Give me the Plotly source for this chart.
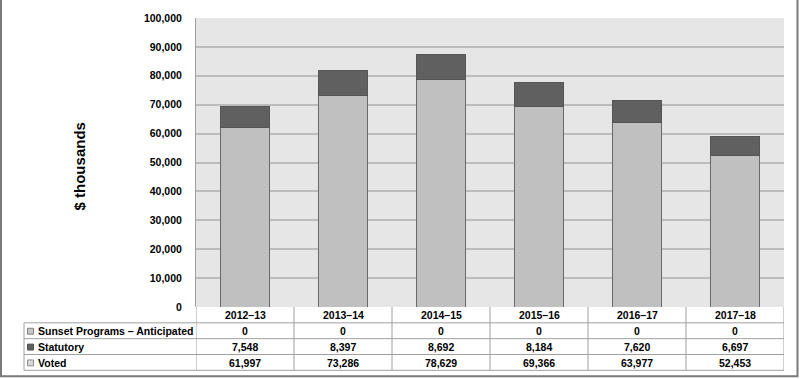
import plotly.graph_objects as go

years = ["2012–13", "2013–14", "2014–15", "2015–16", "2016–17", "2017–18"]
sunset = [0, 0, 0, 0, 0, 0]
statutory = [7548, 8397, 8692, 8184, 7620, 6697]
voted = [61997, 73286, 78629, 69366, 63977, 52453]
y_ticks = [0, 10000, 20000, 30000, 40000, 50000, 60000, 70000, 80000, 90000, 100000]

W, H = 800, 379
L, R, T, B = 196, 784, 15, 307
pw, ph = R - L, B - T

def px_x(x):
    return (x - L) / pw

def px_y(y):
    return (B - y) / ph

FONT = "Liberation Sans, Arial, sans-serif"
C_VOTED = "#c0c0c0"
C_STAT = "#606060"
C_SUNSET = "#c8c8c8"

fig = go.Figure()
fig.add_bar(x=years, y=voted, name="Voted", marker=dict(color=C_VOTED, line=dict(color="#6a6a6a", width=1)), width=0.51)
fig.add_bar(x=years, y=statutory, name="Statutory", marker=dict(color=C_STAT, line=dict(color="#555555", width=1)), width=0.51)
fig.add_bar(x=years, y=sunset, name="Sunset Programs – Anticipated", marker=dict(color=C_SUNSET, line=dict(width=0)), width=0.51)

shapes = []
annotations = []
line_c = "#a0a0a0"
row_h = 16
rows = [("Sunset Programs – Anticipated", sunset, C_SUNSET, "#808080"),
        ("Statutory", statutory, C_STAT, "#505050"),
        ("Voted", voted, "#d8d8d8", "#909090")]

tfont = dict(family=FONT, size=10.5, color="black")
# header row values (years)
for i, yr in enumerate(years):
    annotations.append(dict(x=i, y=px_y(B + row_h / 2 + 0.5), xref="x", yref="paper", text=f"<b>{yr}</b>", showarrow=False,
                            font=tfont, xanchor="center", yanchor="middle"))
# table rows
for r, (label, vals, col, edge) in enumerate(rows):
    top = B + row_h * (r + 1)
    mid = top + row_h / 2 + 0.5
    annotations.append(dict(x=px_x(36), y=px_y(mid), xref="paper", yref="paper", text=f"<b>{label}</b>", showarrow=False,
                            font=tfont, xanchor="left", yanchor="middle"))
    shapes.append(dict(type="rect", xref="paper", yref="paper", x0=px_x(27.5), x1=px_x(33.5),
                       y0=px_y(mid - 3), y1=px_y(mid + 3), fillcolor=col, line=dict(color=edge, width=1)))
    for i, v in enumerate(vals):
        annotations.append(dict(x=i, y=px_y(mid), xref="x", yref="paper", text=f"<b>{v:,}</b>", showarrow=False,
                                font=tfont, xanchor="center", yanchor="middle"))

# horizontal table lines
for k in range(1, 5):
    yy = B + row_h * k
    shapes.append(dict(type="line", xref="paper", yref="paper", x0=px_x(24), x1=1, y0=px_y(yy), y1=px_y(yy),
                       line=dict(color=line_c, width=1)))
# vertical table lines
for i in range(len(years) + 1):
    shapes.append(dict(type="line", xref="x", yref="paper", x0=i - 0.5, x1=i - 0.5, y0=0, y1=px_y(B + row_h * 4),
                       line=dict(color=line_c, width=1)))
shapes.append(dict(type="line", xref="paper", yref="paper", x0=px_x(24), x1=px_x(24), y0=px_y(B + row_h), y1=px_y(B + row_h * 4),
                   line=dict(color=line_c, width=1)))
# outer border
shapes.append(dict(type="rect", xref="paper", yref="paper", x0=px_x(1), x1=px_x(797.5), y0=px_y(377), y1=px_y(-5),
                   line=dict(color="#7a7a7a", width=2), fillcolor="rgba(0,0,0,0)"))

annotations.append(dict(x=px_x(79), y=px_y(165), xref="paper", yref="paper", text="<b>$ thousands</b>", showarrow=False,
                        textangle=-90, font=dict(family=FONT, size=15, color="black"), xanchor="center", yanchor="middle"))

fig.update_layout(
    width=W, height=H, barmode="stack", showlegend=False,
    margin=dict(l=L, r=W - R, t=T, b=H - B, pad=0),
    paper_bgcolor="white", plot_bgcolor="#e6e6e6",
    shapes=shapes, annotations=annotations,
    font=dict(family=FONT, color="black"),
)
fig.update_xaxes(range=[-0.5, 5.5], showticklabels=False, showgrid=False, zeroline=False,
                 showline=False, ticks="")
fig.update_yaxes(range=[0, 100000], tickvals=y_ticks, ticktext=[f"<b>{v:,}</b>" for v in y_ticks],
                 tickfont=dict(family=FONT, size=10.5, color="black"), gridcolor="#bcbcbc", gridwidth=1.5,
                 zeroline=False, showline=True, linecolor="#a0a0a0", linewidth=1, ticks="", ticklen=0,
                 ticklabelstandoff=11)
fig.write_html("out.html", config={"displayModeBar": False})

with open("out.html", encoding="utf-8") as f:
    html = f.read()
html = html.replace("<head>", "<head><style>html,body{margin:0;padding:0;overflow:hidden;}</style>", 1)
with open("out.html", "w", encoding="utf-8") as f:
    f.write(html)
